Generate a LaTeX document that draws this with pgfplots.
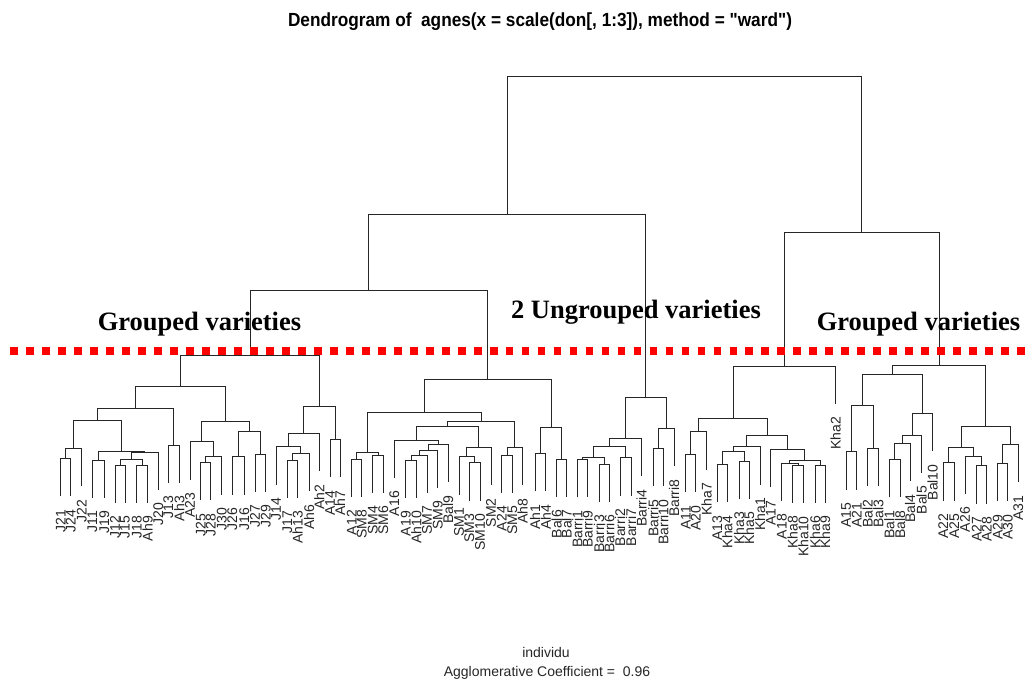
\documentclass[border=0pt]{standalone}
\usepackage{pgfplots}
\pgfplotsset{compat=1.18}
\usepackage{fontspec}
\setmainfont{Liberation Sans}
\newfontfamily\titlefont{Liberation Sans}[Ligatures=TeXOff]
\newfontfamily\timesf{Liberation Serif}
\begin{document}
\begin{tikzpicture}
\begin{axis}[scale only axis, width=1033pt, height=680pt,
  xmin=0, xmax=1033, ymin=0, ymax=680, y dir=reverse,
  hide axis, clip=true, unbounded coords=jump]
% dendrogram merges: each U is left-child-top, up, across, down to right-child-top
\addplot[black!85, line width=0.9pt, line join=miter, mark=none] table[row sep=\\]{
x y\\
60.7 496.3\\60.7 458.3\\70.7 458.3\\70.7 496.3\\nan nan\\
65.7 458.3\\65.7 448.3\\81.7 448.3\\81.7 486.3\\nan nan\\
92.3 498\\92.3 460\\104.3 460\\104.3 498\\nan nan\\
115 503\\115 465\\125 465\\125 503\\nan nan\\
136.7 503\\136.7 465\\147.7 465\\147.7 503\\nan nan\\
120 465\\120 459\\142.2 459\\142.2 465\\nan nan\\
131.1 459\\131.1 452\\158.3 452\\158.3 490\\nan nan\\
98.3 460\\98.3 451\\144.7 451\\144.7 452\\nan nan\\
73.7 448.3\\73.7 420.7\\121.5 420.7\\121.5 451\\nan nan\\
168.3 483\\168.3 445\\179.3 445\\179.3 483\\nan nan\\
97.6 420.7\\97.6 408.3\\173.8 408.3\\173.8 445\\nan nan\\
200.7 500.3\\200.7 462.3\\210.7 462.3\\210.7 500.3\\nan nan\\
205.7 462.3\\205.7 456.7\\221.7 456.7\\221.7 494.7\\nan nan\\
190 479.7\\190 441.7\\213.7 441.7\\213.7 456.7\\nan nan\\
232.3 494.7\\232.3 456.7\\244.3 456.7\\244.3 494.7\\nan nan\\
255 492\\255 454\\265.7 454\\265.7 492\\nan nan\\
238.3 456.7\\238.3 431.7\\260.35 431.7\\260.35 454\\nan nan\\
201.85 441.7\\201.85 421.7\\249.3 421.7\\249.3 431.7\\nan nan\\
135.7 408.3\\135.7 386.7\\225.6 386.7\\225.6 421.7\\nan nan\\
287.3 498\\287.3 460\\297.7 460\\297.7 498\\nan nan\\
292.5 460\\292.5 453.3\\309 453.3\\309 491.3\\nan nan\\
276 484.7\\276 446.7\\300.75 446.7\\300.75 453.3\\nan nan\\
288.4 446.7\\288.4 433.3\\319.3 433.3\\319.3 471.3\\nan nan\\
330 477.3\\330 439.3\\340 439.3\\340 477.3\\nan nan\\
303.85 433.3\\303.85 406\\335 406\\335 439.3\\nan nan\\
180.65 386.7\\180.65 355\\319.4 355\\319.4 406\\nan nan\\
351.7 497\\351.7 459\\361.7 459\\361.7 497\\nan nan\\
372.7 493\\372.7 455\\383.3 455\\383.3 493\\nan nan\\
356.7 459\\356.7 452\\378 452\\378 455\\nan nan\\
405.7 498\\405.7 460\\416.3 460\\416.3 498\\nan nan\\
411 460\\411 455\\427 455\\427 493\\nan nan\\
419 455\\419 450\\437.7 450\\437.7 488\\nan nan\\
428.35 450\\428.35 444.3\\448 444.3\\448 482.3\\nan nan\\
394.3 478\\394.3 440\\438.2 440\\438.2 444.3\\nan nan\\
469.3 500.7\\469.3 462.7\\480 462.7\\480 500.7\\nan nan\\
459 494.7\\459 456.7\\474.65 456.7\\474.65 462.7\\nan nan\\
466.8 456.7\\466.8 447.3\\491 447.3\\491 485.3\\nan nan\\
416.25 440\\416.25 426\\478.9 426\\478.9 447.3\\nan nan\\
501.7 493\\501.7 455\\512.3 455\\512.3 493\\nan nan\\
507 455\\507 447.3\\522.7 447.3\\522.7 485.3\\nan nan\\
447.6 426\\447.6 421.7\\514.85 421.7\\514.85 447.3\\nan nan\\
367.35 452\\367.35 412.7\\481.2 412.7\\481.2 421.7\\nan nan\\
535 491.3\\535 453.3\\545.7 453.3\\545.7 491.3\\nan nan\\
556.7 497\\556.7 459\\566.7 459\\566.7 497\\nan nan\\
540.35 453.3\\540.35 427.7\\561.7 427.7\\561.7 459\\nan nan\\
424.3 412.7\\424.3 379\\551 379\\551 427.7\\nan nan\\
250 355\\250 290\\487.65 290\\487.65 379\\nan nan\\
577.3 497.3\\577.3 459.3\\587.7 459.3\\587.7 497.3\\nan nan\\
599 502\\599 464\\609.3 464\\609.3 502\\nan nan\\
582.5 459.3\\582.5 457\\604.15 457\\604.15 464\\nan nan\\
620 495.7\\620 457.7\\631 457.7\\631 495.7\\nan nan\\
593.3 457\\593.3 446\\625.5 446\\625.5 457.7\\nan nan\\
609.4 446\\609.4 438.3\\641.7 438.3\\641.7 476.3\\nan nan\\
653.3 486.3\\653.3 448.3\\663.3 448.3\\663.3 486.3\\nan nan\\
658.3 448.3\\658.3 428.3\\674 428.3\\674 466.3\\nan nan\\
625.55 438.3\\625.55 397.7\\666.15 397.7\\666.15 428.3\\nan nan\\
368.8 290\\368.8 214\\645.85 214\\645.85 397.7\\nan nan\\
685.7 492.3\\685.7 454.3\\695.7 454.3\\695.7 492.3\\nan nan\\
690.7 454.3\\690.7 431.7\\706.7 431.7\\706.7 469.7\\nan nan\\
717.3 502.3\\717.3 464.3\\727.3 464.3\\727.3 502.3\\nan nan\\
739 499\\739 461\\749 461\\749 499\\nan nan\\
722.3 464.3\\722.3 451.7\\744 451.7\\744 461\\nan nan\\
733.15 451.7\\733.15 446.7\\760 446.7\\760 484.7\\nan nan\\
792.7 503\\792.7 465\\803.3 465\\803.3 503\\nan nan\\
781.7 501\\781.7 463\\798 463\\798 465\\nan nan\\
815 503\\815 465\\825 465\\825 503\\nan nan\\
789.85 463\\789.85 460\\820 460\\820 465\\nan nan\\
770.7 487.3\\770.7 449.3\\804.9 449.3\\804.9 460\\nan nan\\
746.6 446.7\\746.6 435\\787.8 435\\787.8 449.3\\nan nan\\
698.7 431.7\\698.7 418.3\\767.2 418.3\\767.2 435\\nan nan\\
732.95 418.3\\732.95 366\\835.7 366\\835.7 404\\nan nan\\
846 489.7\\846 451.7\\856.7 451.7\\856.7 489.7\\nan nan\\
867.7 486.3\\867.7 448.3\\878.3 448.3\\878.3 486.3\\nan nan\\
851.35 451.7\\851.35 405\\873 405\\873 448.3\\nan nan\\
889.3 497.3\\889.3 459.3\\900 459.3\\900 497.3\\nan nan\\
894.65 459.3\\894.65 443.3\\910 443.3\\910 481.3\\nan nan\\
902.3 443.3\\902.3 435\\921.7 435\\921.7 473\\nan nan\\
912 435\\912 413.3\\932.7 413.3\\932.7 451.3\\nan nan\\
862.2 405\\862.2 374\\922.35 374\\922.35 413.3\\nan nan\\
943.3 500.7\\943.3 462.7\\954.3 462.7\\954.3 500.7\\nan nan\\
976.7 503.7\\976.7 465.7\\986.7 465.7\\986.7 503.7\\nan nan\\
965 494\\965 456\\981.7 456\\981.7 465.7\\nan nan\\
948.8 462.7\\948.8 447.3\\973.35 447.3\\973.35 456\\nan nan\\
997.7 501.3\\997.7 463.3\\1007.7 463.3\\1007.7 501.3\\nan nan\\
1002.7 463.3\\1002.7 444.3\\1018.3 444.3\\1018.3 482.3\\nan nan\\
961.1 447.3\\961.1 426\\1010.5 426\\1010.5 444.3\\nan nan\\
892.3 374\\892.3 365\\985.8 365\\985.8 426\\nan nan\\
784.3 366\\784.3 232\\939.05 232\\939.05 365\\nan nan\\
507.3 214\\507.3 76\\861.7 76\\861.7 232\\
};
% leaf labels
\addplot[draw=none, mark=none, nodes near coords, point meta=explicit symbolic,
  nodes near coords style={rotate=90, anchor=east, inner sep=0pt, text=black!85,
    font=\fontsize{14}{14}\selectfont}]
  table[x=x, y=y, meta=lab, row sep=\\]{
x y lab\\
60.7 509.3 J21\\
70.7 509.3 J24\\
81.7 499.3 J22\\
92.3 511 J11\\
104.3 511 J19\\
115 516 J12\\
125 516 J15\\
136.7 516 J18\\
147.7 516 Ah9\\
158.3 503 J20\\
168.3 496 J13\\
179.3 496 Ah3\\
190 492.7 A23\\
200.7 513.3 J25\\
210.7 513.3 J28\\
221.7 507.7 J30\\
232.3 507.7 J26\\
244.3 507.7 J16\\
255 505 J27\\
265.7 505 J29\\
276 497.7 J14\\
287.3 511 J17\\
297.7 511 Ah13\\
309 504.3 Ah6\\
319.3 484.3 Ah2\\
330 490.3 A14\\
340 490.3 Ah7\\
351.7 510 A12\\
361.7 510 SM8\\
372.7 506 SM4\\
383.3 506 SM6\\
394.3 491 A16\\
405.7 511 A19\\
416.3 511 Ah10\\
427 506 SM7\\
437.7 501 SM9\\
448 495.3 Bal9\\
459 507.7 SM1\\
469.3 513.7 SM3\\
480 513.7 SM10\\
491 498.3 SM2\\
501.7 506 A24\\
512.3 506 SM5\\
522.7 498.3 Ah8\\
535 504.3 Ah1\\
545.7 504.3 Ah4\\
556.7 510 Bal6\\
566.7 510 Bal7\\
577.3 510.3 Barri1\\
587.7 510.3 Barri9\\
599 515 Barri3\\
609.3 515 Barri6\\
620 508.7 Barri2\\
631 508.7 Barri7\\
641.7 489.3 Barri4\\
653.3 499.3 Barri5\\
663.3 499.3 Barri10\\
674 479.3 Barri8\\
685.7 505.3 A11\\
695.7 505.3 A20\\
706.7 482.7 Kha7\\
717.3 515.3 A13\\
727.3 515.3 Kha4\\
739 512 Kha3\\
749 512 Kha5\\
760 497.7 Kha1\\
770.7 500.3 A17\\
781.7 514 A18\\
792.7 516 Kha8\\
803.3 516 Kha10\\
815 516 Kha6\\
825 516 Kha9\\
835.7 417 Kha2\\
846 502.7 A15\\
856.7 502.7 A21\\
867.7 499.3 Bal2\\
878.3 499.3 Bal3\\
889.3 510.3 Bal1\\
900 510.3 Bal8\\
910 494.3 Bal4\\
921.7 486 Bal5\\
932.7 464.3 Bal10\\
943.3 513.7 A22\\
954.3 513.7 A25\\
965 507 A26\\
976.7 516.7 A27\\
986.7 516.7 A28\\
997.7 514.3 A29\\
1007.7 514.3 A30\\
1018.3 495.3 A31\\
};
% red cut line
\addplot[color={rgb,255:red,255;green,0;blue,0}, line width=7.7pt, mark=none,
  dash pattern=on 7.7pt off 8.28pt] coordinates {(10.4,351.2) (1033,351.2)};
% texts
\node[anchor=base, inner sep=0pt] at (axis cs:540,27)
  {\resizebox{504pt}{\height}{\titlefont\fontsize{19}{19}\selectfont\bfseries Dendrogram of\ \ agnes(x = scale(don[, 1:3]), method = "ward")}};
\node[anchor=base, inner sep=0pt, font=\timesf\bfseries\fontsize{26.5}{26.5}\selectfont] at (axis cs:199.5,330.5) {Grouped varieties};
\node[anchor=base, inner sep=0pt, font=\timesf\bfseries\fontsize{26.5}{26.5}\selectfont] at (axis cs:636,318.5) {2 Ungrouped varieties};
\node[anchor=base, inner sep=0pt, font=\timesf\bfseries\fontsize{26.5}{26.5}\selectfont] at (axis cs:918.5,330.5) {Grouped varieties};
\node[anchor=base, inner sep=0pt, font=\fontsize{14}{14}\selectfont, text=black!85] at (axis cs:546,657) {individu};
\node[anchor=base, inner sep=0pt, font=\fontsize{14}{14}\selectfont, text=black!85] at (axis cs:547,676) {Agglomerative Coefficient =\ \ 0.96};
\end{axis}
\pgfresetboundingbox
\path (current axis.south west) rectangle (current axis.north east);
\end{tikzpicture}
\end{document}
